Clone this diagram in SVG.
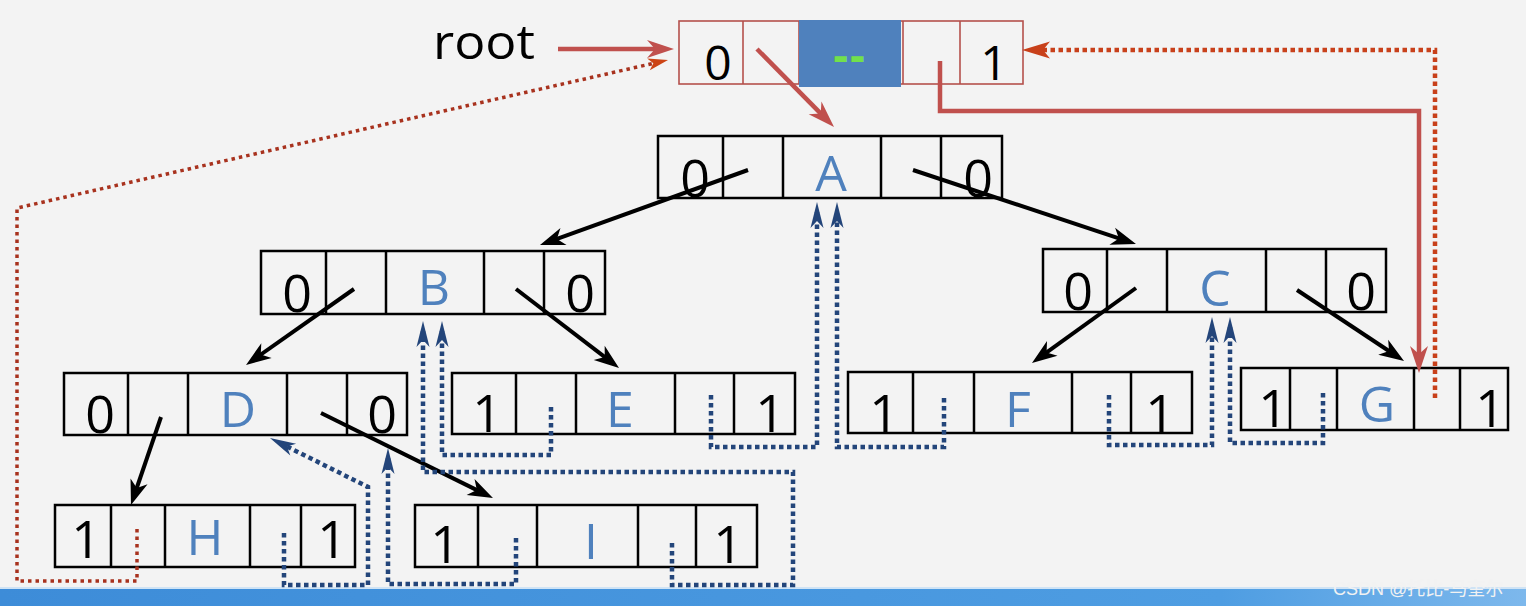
<svg xmlns="http://www.w3.org/2000/svg" width="1526" height="606" viewBox="0 0 1526 606">
<style>
.bg{fill:#F3F3F3}
.box{fill:none;stroke:#000;stroke-width:2.5}
.rbox{fill:none;stroke:#B4504C;stroke-width:1.6}
.dig{font-family:"Open Sans","Liberation Sans",sans-serif;font-size:52px;fill:#000;text-anchor:middle}
.rdig{font-family:"Open Sans","Liberation Sans",sans-serif;font-size:48px;fill:#000;text-anchor:middle}
.let{font-family:"Open Sans","Liberation Sans",sans-serif;font-size:50px;fill:#4F81BD;text-anchor:middle}
.blk{fill:none;stroke:#000;stroke-width:4;marker-end:url(#mBlack)}
.red{fill:none;stroke:#C0504D;stroke-width:4.5;stroke-linejoin:miter;marker-end:url(#mRed)}
.rdot{fill:none;stroke:#C8401A;stroke-width:4.5;stroke-dasharray:4.5 3.5;marker-end:url(#mRdot)}
.rdot2{fill:none;stroke:#A8321E;stroke-width:3.5;stroke-dasharray:3.5 4;marker-end:url(#mRdot2)}
.bdot{fill:none;stroke:#23457A;stroke-width:4.5;stroke-dasharray:4.5 3.5;marker-end:url(#mBlue)}
</style>
<defs>
<marker id="mBlack" markerUnits="userSpaceOnUse" viewBox="-20 -15 40 30" markerWidth="40" markerHeight="30" refX="0" refY="0" orient="auto" overflow="visible"><path d="M10,0 L-15,-9 L-8,0 L-15,9 Z" fill="#000"/></marker>
<marker id="mRed" markerUnits="userSpaceOnUse" viewBox="-20 -15 40 30" markerWidth="40" markerHeight="30" refX="0" refY="0" orient="auto" overflow="visible"><path d="M10,0 L-17,-9 L-9,0 L-17,9 Z" fill="#C0504D"/></marker>
<marker id="mRdot" markerUnits="userSpaceOnUse" viewBox="-20 -15 40 30" markerWidth="40" markerHeight="30" refX="0" refY="0" orient="auto" overflow="visible"><path d="M12,0 L-16,-8.5 L-9,0 L-16,8.5 Z" fill="#C8401A"/></marker>
<marker id="mRdot2" markerUnits="userSpaceOnUse" viewBox="-20 -15 40 30" markerWidth="40" markerHeight="30" refX="0" refY="0" orient="auto" overflow="visible"><path d="M8,0 L-12,-6 L-7,0 L-12,6 Z" fill="#CC4415"/></marker>
<marker id="mBlue" markerUnits="userSpaceOnUse" viewBox="-20 -15 40 30" markerWidth="40" markerHeight="30" refX="0" refY="0" orient="auto" overflow="visible"><path d="M10,0 L-16,-6.5 L-9,0 L-16,6.5 Z" fill="#23457A"/></marker>
<linearGradient id="barG" x1="0" y1="0" x2="1" y2="0"><stop offset="0" stop-color="#3D8CD8"/><stop offset="0.8" stop-color="#4E9DE2"/><stop offset="1" stop-color="#7DB8EC"/></linearGradient>
</defs>
<rect class="bg" x="0" y="0" width="1526" height="606"/>
<rect x="0" y="587" width="1526" height="19" fill="url(#barG)"/>
<rect x="0" y="587" width="1526" height="2" fill="#CFE3F5"/>

<text x="433" y="59" font-family="'Open Sans','Liberation Sans',sans-serif" font-size="48" fill="#000" textLength="102" lengthAdjust="spacingAndGlyphs">root</text>

<g id="root">
<rect class="rbox" x="679" y="21" width="344" height="63"/>
<line class="rbox" x1="743" y1="21" x2="743" y2="84"/>
<line class="rbox" x1="799" y1="21" x2="799" y2="84"/>
<line class="rbox" x1="903" y1="21" x2="903" y2="84"/>
<line class="rbox" x1="960" y1="21" x2="960" y2="84"/>
<rect x="799" y="20" width="102" height="67" fill="#4F81BD"/>
<text class="rdig" x="718" y="80">0</text>
<text x="850" y="72" font-family="'Open Sans','Liberation Sans',sans-serif" font-size="46" font-weight="bold" fill="#72E04C" text-anchor="middle" letter-spacing="2">--</text>
<text class="rdig" x="994" y="80">1</text>
</g>

<g id="nodeA">
<rect class="box" x="658" y="136" width="344" height="62"/>
<path class="box" d="M723,136V198M783,136V198M881,136V198M941,136V198"/>
<text class="dig" x="695" y="197">0</text>
<text class="let" x="831" y="191">A</text>
<text class="dig" x="978" y="197">0</text>
</g>

<g id="nodeB">
<rect class="box" x="261" y="251" width="344" height="63"/>
<path class="box" d="M326,251V314M386,251V314M484,251V314M544,251V314"/>
<text class="dig" x="297" y="312">0</text>
<text class="let" x="434" y="305">B</text>
<text class="dig" x="580" y="312">0</text>
</g>

<g id="nodeC">
<rect class="box" x="1043" y="249" width="343" height="63"/>
<path class="box" d="M1107,249V312M1167,249V312M1266,249V312M1326,249V312"/>
<text class="dig" x="1078" y="310">0</text>
<text class="let" x="1215" y="306">C</text>
<text class="dig" x="1361" y="310">0</text>
</g>

<g id="nodeD">
<rect class="box" x="64" y="373" width="343" height="62"/>
<path class="box" d="M128,373V435M188,373V435M287,373V435M347,373V435"/>
<text class="dig" x="100" y="433">0</text>
<text class="let" x="238" y="427">D</text>
<text class="dig" x="382" y="433">0</text>
</g>

<g id="nodeE">
<rect class="box" x="452" y="373" width="343" height="61"/>
<path class="box" d="M516,373V434M576,373V434M675,373V434M734,373V434"/>
<text class="dig" x="487" y="432">1</text>
<text class="let" x="620" y="427">E</text>
<text class="dig" x="770" y="432">1</text>
</g>

<g id="nodeF">
<rect class="box" x="848" y="372" width="344" height="61"/>
<path class="box" d="M913,372V433M974,372V433M1072,372V433M1131,372V433"/>
<text class="dig" x="884" y="432">1</text>
<text class="let" x="1018" y="427">F</text>
<text class="dig" x="1160" y="432">1</text>
</g>

<g id="nodeG">
<rect class="box" x="1241" y="368" width="267" height="62"/>
<path class="box" d="M1290,368V430M1337,368V430M1414,368V430M1460,368V430"/>
<text class="dig" x="1273" y="427">1</text>
<text class="let" x="1377" y="422">G</text>
<text class="dig" x="1490" y="427">1</text>
</g>

<g id="nodeH">
<rect class="box" x="55" y="505" width="300" height="62"/>
<path class="box" d="M111,505V567M165,505V567M250,505V567M301,505V567"/>
<text class="dig" x="86" y="558">1</text>
<text class="let" x="205" y="555">H</text>
<text class="dig" x="332" y="558">1</text>
</g>

<g id="nodeI">
<rect class="box" x="415" y="505" width="342" height="62"/>
<path class="box" d="M478,505V567M537,505V567M638,505V567M696,505V567"/>
<text class="dig" x="445" y="563">1</text>
<text class="let" x="591" y="559">I</text>
<text class="dig" x="728" y="563">1</text>
</g>

<g id="connectors">
<path class="red" d="M558,49H664"/>
<path class="red" d="M757,49L827,119.9"/>
<path class="red" d="M940,61V111H1419V363"/>
<path class="rdot" d="M1435,398V50H1034"/>
<path class="rdot2" d="M137,529V581H17V208L660.2,61.8"/>

<path class="blk" d="M748,170L549.4,241.6"/>
<path class="blk" d="M913,170L1126.5,240.9"/>
<path class="blk" d="M354,289L254.2,359.2"/>
<path class="blk" d="M516,289L611.1,361.9"/>
<path class="blk" d="M1136,288L1040.1,357.1"/>
<path class="blk" d="M1297,290L1395.7,355.5"/>
<path class="blk" d="M161,417L134.2,495.5"/>
<path class="blk" d="M321,413L484,493.6"/>

<path class="bdot" d="M551,407V455H442V331"/>
<path class="bdot" d="M672,543V585H793V472H423V331"/>
<path class="bdot" d="M516,538V584H388V458"/>
<path class="bdot" d="M284,533V585H368V487L278.9,442.5"/>
<path class="bdot" d="M711,395V447H817V212"/>
<path class="bdot" d="M944,398V447H837V212"/>
<path class="bdot" d="M1109,395V445H1212V327"/>
<path class="bdot" d="M1323,393V443H1230V327"/>
</g>

<text x="1333" y="595" font-family="'Liberation Sans','Noto Sans CJK SC',sans-serif" font-size="18" fill="#F2F2F2">CSDN @托比-马奎尔</text>
</svg>
